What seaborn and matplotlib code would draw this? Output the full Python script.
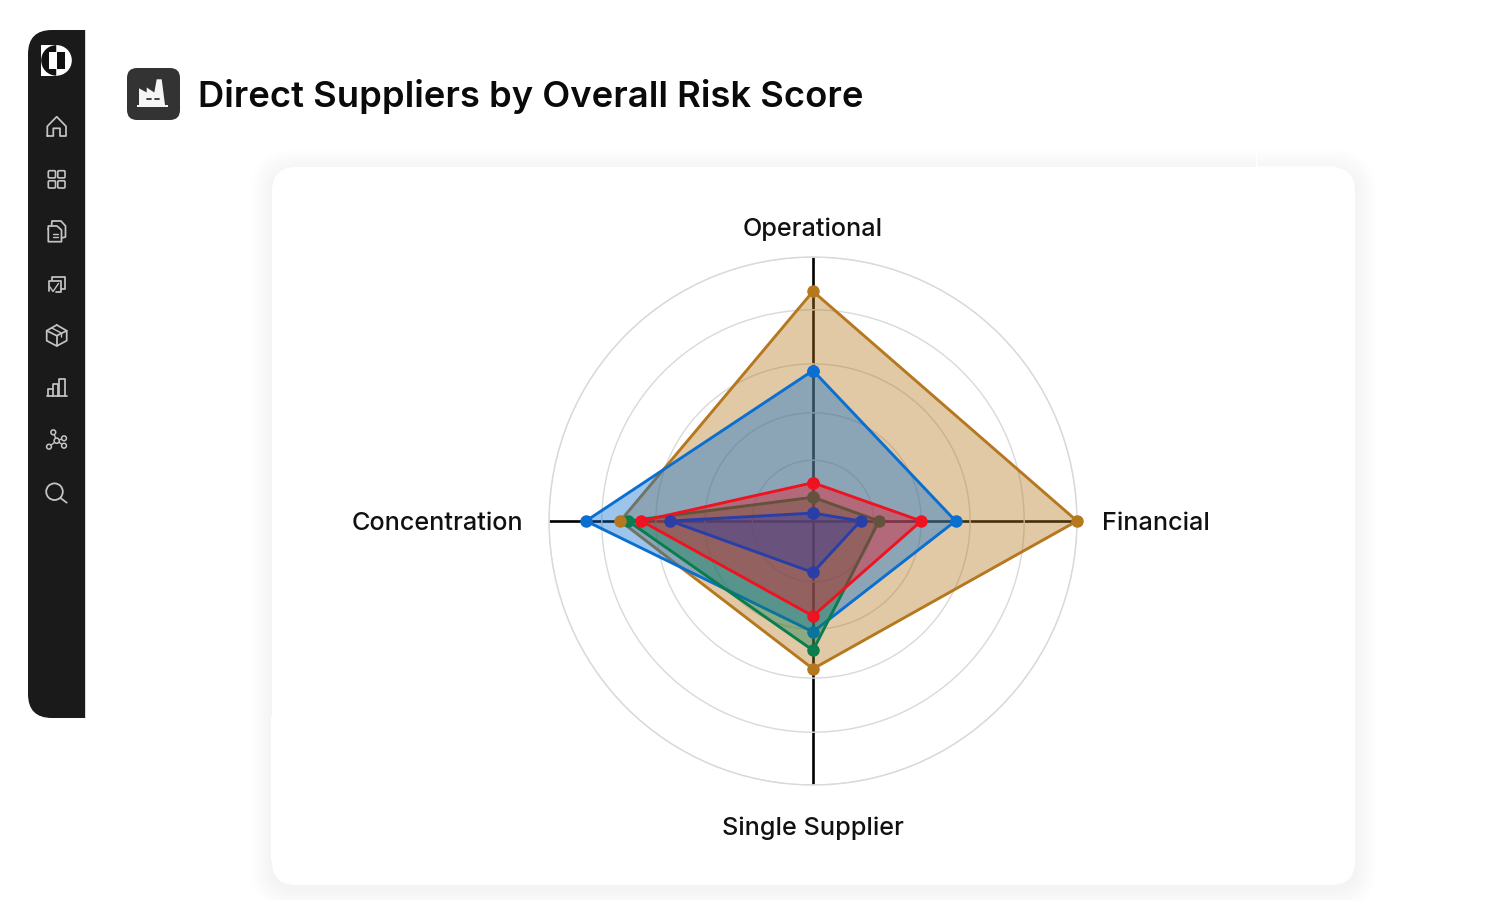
import numpy as np
import pandas as pd
import seaborn as sns
import matplotlib.pyplot as plt
from matplotlib.patches import FancyBboxPatch, Rectangle, Circle, Wedge, Polygon, PathPatch
from matplotlib.path import Path

categories = ['Operational', 'Financial', 'Single Supplier', 'Concentration']
ring_values = [23, 41, 59.5, 80, 100]

gold_values = [87, 100, 56, 73]
blue_values = [57, 54, 42, 86]
green_values = [9, 25, 49, 70]
red_values = [14.5, 41, 36, 65]
navy_values = [3, 18, 19.5, 54]

sns.set_theme(style='white')
plt.rcParams['font.family'] = ['Inter', 'DejaVu Sans']

fig = plt.figure(figsize=(15, 9), dpi=100, facecolor='white')

# page layer in pixel coordinates
bg = fig.add_axes([0, 0, 1, 1], zorder=0)
bg.set_xlim(0, 1500)
bg.set_ylim(900, 0)
bg.axis('off')


def rounded(x0, y0, x1, y1, r, **kw):
    p = FancyBboxPatch((x0 + r, y0 + r), x1 - x0 - 2 * r, y1 - y0 - 2 * r,
                       boxstyle=f'round,pad={r},rounding_size={r}', **kw)
    bg.add_patch(p)
    return p


def stroke(pts, lw=1.25, color='#c4c4c4'):
    xs, ys = zip(*pts)
    bg.plot(xs, ys, color=color, lw=lw, solid_capstyle='round', solid_joinstyle='round')


# card with soft shadow
for grow in range(22, 0, -2):
    rounded(272 - grow, 167 - grow + 4, 1355 + grow, 885 + grow + 4, 24 + grow,
            fc='black', ec='none', alpha=0.005)
rounded(272, 167, 1355, 885, 24, fc='white', ec='none')
bg.plot([1255.5, 1255.5], [150, 166], color='white', lw=0.8)
bg.plot([1256, 1335], [165.5, 165.5], color='white', lw=0.6)
bg.plot([270.5, 270.5], [716, 860], color='white', lw=0.8)

# sidebar
side = Path([(85, 30), (52, 30), (28, 30), (28, 54), (28, 694), (28, 718), (52, 718), (85, 718), (85, 30)],
            [Path.MOVETO, Path.LINETO, Path.CURVE3, Path.CURVE3, Path.LINETO, Path.CURVE3, Path.CURVE3,
             Path.LINETO, Path.CLOSEPOLY])
bg.add_patch(PathPatch(side, fc='#1a1a1a', ec='none'))
bg.plot([85.4, 85.4], [30, 718], color='#c8c8c8', lw=0.5)

# logo
bg.add_patch(Rectangle((41.3, 45), 15.2, 30.7, fc='white', ec='none'))
bg.add_patch(Wedge((56.5, 60.4), 15.3, 90, 270, fc='#111111', ec='none'))
bg.add_patch(Wedge((56.5, 60.4), 15.3, 270, 90, fc='white', ec='none'))
bg.add_patch(Rectangle((48.5, 52), 8, 17, fc='white', ec='none'))
bg.add_patch(Rectangle((56.5, 52), 8, 17, fc='#111111', ec='none'))

# home
stroke([(47.3, 136), (47.3, 126.3), (56.7, 116.7), (66, 126.3), (66, 136), (60, 136), (60, 128.3),
        (53.3, 128.3), (53.3, 136), (47.3, 136)])
# grid
for x0 in (48.3, 57.8):
    for y0 in (170.7, 180.8):
        rounded(x0, y0, x0 + 7.2, y0 + 7.2, 1.2, fc='none', ec='#c4c4c4', lw=1.2)
# documents
stroke([(48.3, 229), (48.3, 241.7), (61.5, 241.7), (61.5, 230), (57, 226), (48.3, 226), (48.3, 229)])
stroke([(51.5, 226), (52, 221), (61, 221), (65.5, 226), (65.5, 237), (61.5, 238)])
stroke([(52.5, 233.5), (57.5, 233.5)], lw=1)
stroke([(52.5, 237), (57.5, 237)], lw=1)
# checked copies
stroke([(48.5, 291), (48.5, 280.5), (60.5, 280.5), (60.5, 292), (56, 292)])
stroke([(52, 280), (52, 276.5), (64.5, 276.5), (64.5, 289), (60.5, 289)])
stroke([(50, 287), (53, 291.5), (58.5, 283.5)], lw=1)
# cube
cube = [(56.7, 325), (66.7, 330.7), (66.7, 340.7), (56.7, 346), (46.7, 340.7), (46.7, 330.7), (56.7, 325)]
stroke(cube)
stroke([(46.7, 330.7), (56.7, 335.7), (66.7, 330.7)])
stroke([(56.7, 335.7), (56.7, 346)])
stroke([(51.5, 327.8), (61.5, 333.2), (61.5, 337)], lw=1)
# bars
stroke([(46.7, 396), (66.7, 396)])
stroke([(48.3, 396), (48.3, 389.3), (53.3, 389.3), (53.3, 396)])
stroke([(53.3, 389.3), (53.3, 384), (58.3, 384), (58.3, 396)])
stroke([(59, 396), (59, 379), (64.5, 379), (64.5, 396)])
# network
hub = (56.7, 440.7)
for nx, ny in [(53.3, 432.3), (64, 438.3), (64, 445.7), (49, 446.7)]:
    stroke([hub, (nx, ny)], lw=1)
    bg.add_patch(Circle((nx, ny), 2.4, fc='#1a1a1a', ec='#c4c4c4', lw=1.1, zorder=3))
bg.add_patch(Circle(hub, 2.6, fc='#1a1a1a', ec='#c4c4c4', lw=1.1, zorder=3))
# search
bg.add_patch(Circle((54.5, 491.7), 8.3, fc='none', ec='#c4c4c4', lw=1.3))
stroke([(60.5, 498), (66.7, 502.7)])

# factory badge
rounded(127, 68, 180, 120, 10, fc='#333333', ec='none')
bg.add_patch(Polygon([(139, 105), (139, 88.3), (146.7, 92.5), (146.7, 87.5), (154.3, 92.5), (156.7, 79.3),
                      (161.7, 79.3), (165, 105)], fc='#f5f5f5', ec='none'))
bg.add_patch(Rectangle((137.3, 104.5), 30.3, 2, fc='#f5f5f5', ec='none'))
stroke([(146.5, 99.3), (150.5, 99.3)], lw=1.3, color='#333333')
stroke([(155, 99.3), (159, 99.3)], lw=1.3, color='#333333')
bg.text(198, 97, 'Direct Suppliers by Overall Risk Score', fontsize=26.2, fontweight=600,
        color='#0a0a0a', va='center', ha='left')

# radar
ax = fig.add_axes([549 / 1500, (900 - 785) / 900, 528 / 1500, 528 / 900], polar=True, zorder=1)
ax.patch.set_alpha(0)
ax.set_theta_zero_location('N')
ax.set_theta_direction(-1)
ax.set_ylim(0, 100)

angles = np.linspace(0, 2 * np.pi, len(categories), endpoint=False)
closed = np.append(angles, 2 * np.pi)

ax.set_rgrids(ring_values, labels=[])
ax.yaxis.grid(True, color='#d9d9d9', lw=1.0)
ax.xaxis.grid(True, color='black', lw=1.9)
ax.spines['polar'].set_color('#d9d9d9')
ax.spines['polar'].set_linewidth(1.0)
ax.set_xticks(angles)
ax.set_xticklabels([])
ax.set_axisbelow(True)

label_offsets = [(0, 28, 'center'), (25, -2, 'left'), (0, -43, 'center'), (-26, -2, 'right')]
for cat, theta, (dx, dy, ha) in zip(categories, angles, label_offsets):
    ax.annotate(cat, xy=(theta, 100), xytext=(dx, dy), textcoords='offset pixels', ha=ha, va='center',
                fontsize=18.2, fontweight=500, color='#111111', annotation_clip=False)

series = [
    ('Gold', gold_values, '#b5781f'),
    ('Blue', blue_values, '#0a6fd0'),
    ('Green', green_values, '#0a7d4f'),
    ('Red', red_values, '#ee1320'),
    ('Navy', navy_values, '#2a3ea8'),
]

for i, (name, vals, col) in enumerate(series):
    df = pd.DataFrame({'theta': closed, 'r': vals + vals[:1]})
    z = 3 + i
    ax.fill(df['theta'], df['r'], color=col, alpha=0.4, lw=0, zorder=z)
    sns.lineplot(data=df, x='theta', y='r', ax=ax, sort=False, estimator=None, color=col, linewidth=2.1,
                 marker='o' if name != 'Gold' else None, markersize=9, markeredgewidth=0, zorder=z)

# gold points sit above the other fills
sns.scatterplot(x=angles, y=gold_values, ax=ax, color='#b5781f', s=81, linewidth=0, zorder=20, clip_on=False)
ax.set_xlabel('')
ax.set_ylabel('')

fig.savefig('out.png', dpi=100)
